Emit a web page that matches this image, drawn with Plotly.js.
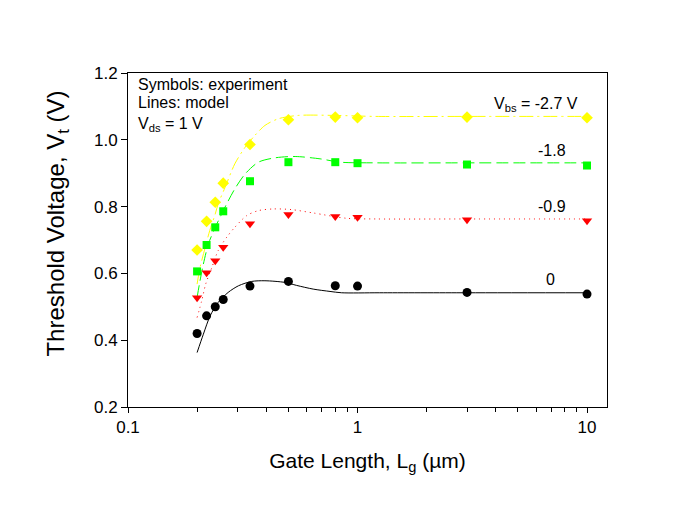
<!DOCTYPE html>
<html>
<head>
<meta charset="utf-8">
<script src="https://cdn.plot.ly/plotly-3.0.1.min.js"></script>
<style>html,body{margin:0;padding:0;background:#fff;}</style>
</head>
<body>
<div id="chart" style="width:679px;height:528px;"></div>
<script>
// Experimental data (symbols)
const Lg = [0.2, 0.22, 0.24, 0.26, 0.34, 0.5, 0.8, 1.0, 3, 10];
const vt_0 = [0.42, 0.473, 0.50, 0.522, 0.562, 0.576, 0.563, 0.562, 0.543, 0.538];
const vt_m09 = [0.527, 0.602, 0.638, 0.678, 0.749, 0.776, 0.770, 0.768, 0.761, 0.758];
const vt_m18 = [0.606, 0.685, 0.738, 0.786, 0.876, 0.933, 0.933, 0.930, 0.926, 0.923];
const vt_m27 = [0.670, 0.756, 0.813, 0.870, 0.986, 1.060, 1.068, 1.066, 1.068, 1.066];

// Model curves (lines)
const m0_x = [0.2, 0.213, 0.228, 0.247, 0.273, 0.303, 0.346, 0.395, 0.483, 0.543, 0.641, 0.759, 0.853, 1.25, 3, 10];
const m0_y = [0.363, 0.418, 0.473, 0.513, 0.543, 0.563, 0.576, 0.578, 0.573, 0.564, 0.553, 0.546, 0.542, 0.542, 0.542, 0.542];
const m09_x = [0.2, 0.2095, 0.218, 0.232, 0.247, 0.269, 0.292, 0.329, 0.37, 0.43, 0.516, 0.641, 0.897, 1.21, 3, 10];
const m09_y = [0.468, 0.518, 0.568, 0.618, 0.668, 0.708, 0.738, 0.773, 0.788, 0.793, 0.791, 0.781, 0.765, 0.763, 0.763, 0.763];
const m18_x = [0.2, 0.206, 0.213, 0.224, 0.24, 0.256, 0.269, 0.292, 0.324, 0.37, 0.437, 0.535, 0.687, 0.84, 1.21, 3, 10];
const m18_y = [0.528, 0.578, 0.628, 0.688, 0.738, 0.778, 0.808, 0.853, 0.898, 0.933, 0.946, 0.950, 0.943, 0.933, 0.931, 0.931, 0.931];
const m27_x = [0.2, 0.206, 0.217, 0.227, 0.24, 0.247, 0.265, 0.292, 0.324, 0.357, 0.395, 0.452, 0.552, 0.8, 1.2, 3, 10];
const m27_y = [0.568, 0.618, 0.678, 0.728, 0.778, 0.808, 0.858, 0.928, 0.978, 1.013, 1.043, 1.063, 1.073, 1.073, 1.070, 1.070, 1.070];

// Axis ticks
const xTickVals = [0.1, 1, 10];
const xTickText = ['0.1', '1', '10'];
const xMinor = [0.2, 0.3, 0.4, 0.5, 0.6, 0.7, 0.8, 0.9, 2, 3, 4, 5, 6, 7, 8, 9];
const yTickVals = [0.2, 0.4, 0.6, 0.8, 1.0, 1.2];
const yTickText = ['0.2', '0.4', '0.6', '0.8', '1.0', '1.2'];

const FONT = 'Liberation Sans, Arial, sans-serif';

const line = (x, y, color, dash) => ({
  x, y, type: 'scatter', mode: 'lines',
  line: {color, width: 1, dash, shape: 'spline', smoothing: 0.8},
  hoverinfo: 'skip'
});
const pts = (y, color, symbol, size) => ({
  x: Lg, y, type: 'scatter', mode: 'markers',
  marker: {color, symbol, size, line: {width: 0}}
});

const data = [
  line(m0_x, m0_y, '#000000', 'solid'),
  line(m09_x, m09_y, '#FF0000', '1px,4px'),
  line(m18_x, m18_y, '#00FF00', '12px,5px'),
  line(m27_x, m27_y, '#FFFF00', '14px,4px,2px,4px'),
  pts(vt_0, '#000000', 'circle', 9),
  pts(vt_m09, '#FF0000', 'triangle-down', 9),
  pts(vt_m18, '#00FF00', 'square', 8),
  pts(vt_m27, '#FFFF00', 'diamond', 9)
];

const ann = (text, x, y, xanchor) => ({
  text, x, y, xref: 'paper', yref: 'paper', xanchor, yanchor: 'middle',
  showarrow: false, font: {family: FONT, size: 16, color: '#000'}
});

const layout = {
  width: 679, height: 528,
  margin: {l: 128, r: 72, t: 73, b: 121},
  paper_bgcolor: '#fff', plot_bgcolor: '#fff',
  showlegend: false,
  font: {family: FONT, color: '#000'},
  xaxis: {
    type: 'log', range: [-1, 1.087],
    tickmode: 'array', tickvals: xTickVals, ticktext: xTickText,
    ticks: 'outside', ticklen: 5, tickcolor: '#000', tickwidth: 1,
    minor: {tickmode: 'array', tickvals: xMinor, ticks: 'outside', ticklen: 4, tickcolor: '#000', tickwidth: 1, showgrid: false},
    showline: true, mirror: true, linecolor: '#000', linewidth: 1,
    showgrid: false, zeroline: false,
    tickfont: {family: FONT, size: 17, color: '#000'},
    title: {text: 'Gate Length, L<sub>g</sub> (µm)', font: {family: FONT, size: 21, color: '#000'}, standoff: 16}
  },
  yaxis: {
    range: [0.2, 1.2],
    tickmode: 'array', tickvals: yTickVals, ticktext: yTickText,
    ticks: 'outside', ticklen: 6, tickcolor: '#000', tickwidth: 1,
    showline: true, mirror: true, linecolor: '#000', linewidth: 1,
    showgrid: false, zeroline: false,
    tickfont: {family: FONT, size: 17, color: '#000'},
    title: {text: ''}
  },
  annotations: [
    {text: 'Threshold Voltage, V<sub>t</sub> (V)', x: -0.147, y: 0.548, xref: 'paper', yref: 'paper',
     xanchor: 'center', yanchor: 'middle', textangle: -90, showarrow: false,
     font: {family: FONT, size: 24, color: '#000'}},
    ann('Symbols: experiment', 0.016, 0.967, 'left'),
    ann('Lines: model', 0.016, 0.911, 'left'),
    ann('V<sub>ds</sub> = 1 V', 0.016, 0.845, 'left'),
    ann('V<sub>bs</sub> = -2.7 V', 0.944, 0.905, 'right'),
    ann('-1.8', 0.919, 0.769, 'right'),
    ann('-0.9', 0.919, 0.600, 'right'),
    ann('0', 0.896, 0.383, 'right')
  ]
};

Plotly.newPlot('chart', data, layout, {displayModeBar: false, staticPlot: true});
</script>
</body>
</html>
